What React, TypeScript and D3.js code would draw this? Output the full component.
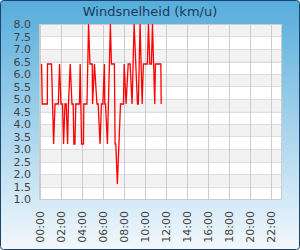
import React, { useEffect, useRef } from 'react';
import * as d3 from 'd3';

// wind speed readings (time of day, km/u)
const times = [
  '00:09', '00:13', '00:42', '00:43', '01:06', '01:12', '01:18', '01:26', '01:45', '01:52',
  '02:00', '02:09', '02:15', '02:23', '02:30', '02:38', '02:43', '02:53', '03:03', '03:10',
  '03:14', '03:20', '03:25', '03:46', '03:50', '03:58', '04:09', '04:11', '04:29', '04:38',
  '04:46', '04:59', '05:01', '05:12', '05:26', '05:33', '05:44', '05:52', '06:00', '06:09',
  '06:11', '06:15', '06:26', '06:43', '06:49', '07:06', '07:10', '07:14', '07:23', '07:41',
  '07:58', '08:02', '08:13', '08:25', '08:36', '08:47', '08:59', '09:18', '09:23', '09:33',
  '09:45', '09:52', '10:15', '10:21', '10:29', '10:38', '10:44', '10:57', '11:01', '11:32',
  '11:34',
];
const speeds = [
  6.4, 4.8, 4.8, 6.4, 6.4, 4.8, 3.2, 4.8, 4.8, 6.4,
  4.8, 4.8, 3.2, 4.8, 4.8, 3.2, 4.8, 6.4, 4.8, 4.8,
  3.2, 3.2, 4.8, 4.8, 6.4, 3.2, 3.2, 4.8, 4.8, 8.0,
  6.4, 6.4, 4.8, 6.4, 4.8, 4.8, 3.2, 4.8, 4.8, 6.4,
  4.8, 4.8, 3.2, 8.0, 6.4, 6.4, 3.2, 3.2, 1.6, 4.8,
  4.8, 6.4, 4.8, 6.4, 6.4, 4.8, 8.0, 4.8, 4.8, 8.0,
  4.8, 6.4, 6.4, 8.0, 6.4, 6.4, 8.0, 4.8, 6.4, 6.4,
  4.8,
];
const yTicks = [1.0, 1.5, 2.0, 2.5, 3.0, 3.5, 4.0, 4.5, 5.0, 5.5, 6.0, 6.5, 7.0, 7.5, 8.0];
const xTickHours = [0, 2, 4, 6, 8, 10, 12, 14, 16, 18, 20, 22];
const title = 'Windsnelheid (km/u)';

const toHours = (t: string) => {
  const [h, m] = t.split(':').map(Number);
  return h + m / 60;
};

export default function App() {
  const svgRef = useRef<SVGSVGElement>(null);
  const width = 300;
  const height = 250;

  useEffect(() => {
    document.body.style.margin = '0';
    if (!svgRef.current) return;
    const svg = d3.select(svgRef.current);
    svg.selectAll('*').remove();

    const margin = { top: 24, right: 19, bottom: 51, left: 40 };
    const innerW = width - margin.left - margin.right;
    const innerH = height - margin.top - margin.bottom;

    // background gradient
    const defs = svg.append('defs');
    const grad = defs.append('linearGradient')
      .attr('id', 'bg')
      .attr('x1', 0).attr('y1', 0).attr('x2', 0).attr('y2', 1);
    grad.append('stop').attr('offset', '0%').attr('stop-color', '#56addb');
    grad.append('stop').attr('offset', '100%').attr('stop-color', '#f3f8fd');

    svg.append('rect')
      .attr('x', 0.5).attr('y', 0.5)
      .attr('width', width - 1).attr('height', height - 1)
      .attr('rx', 3)
      .attr('fill', 'url(#bg)')
      .attr('stroke', '#1d4470')
      .attr('stroke-width', 1);

    svg.append('text')
      .attr('x', width / 2)
      .attr('y', 16)
      .attr('text-anchor', 'middle')
      .style('font-family', 'DejaVu Sans, sans-serif')
      .style('font-size', '13px')
      .style('fill', '#1b3a5c')
      .text(title);

    const x = d3.scaleLinear().domain([0, 23]).range([0, innerW]);
    const y = d3.scaleLinear().domain([1, 8]).range([innerH, 0]);

    const g = svg.append('g').attr('transform', `translate(${margin.left},${margin.top})`);

    // alternating bands
    d3.range(yTicks.length - 1).forEach(i => {
      const hi = yTicks[yTicks.length - 1 - i];
      const lo = yTicks[yTicks.length - 2 - i];
      g.append('rect')
        .attr('x', 0)
        .attr('y', y(hi))
        .attr('width', innerW)
        .attr('height', y(lo) - y(hi))
        .attr('fill', i % 2 === 0 ? '#f2f2f2' : '#ffffff');
    });

    // horizontal grid
    g.selectAll('.hgrid')
      .data(yTicks)
      .enter()
      .append('line')
      .attr('x1', 0).attr('x2', innerW)
      .attr('y1', d => Math.round(y(d)) + 0.5)
      .attr('y2', d => Math.round(y(d)) + 0.5)
      .attr('stroke', '#dddddd');

    // vertical grid
    g.selectAll('.vgrid')
      .data(xTickHours)
      .enter()
      .append('line')
      .attr('y1', 0).attr('y2', innerH)
      .attr('x1', d => Math.round(x(d)) + 0.5)
      .attr('x2', d => Math.round(x(d)) + 0.5)
      .attr('stroke', '#cccccc');

    // plot frame
    g.append('rect')
      .attr('x', -0.5).attr('y', 0.5)
      .attr('width', innerW + 1).attr('height', innerH)
      .attr('fill', 'none')
      .attr('stroke', '#cccccc');

    // y labels
    g.selectAll('.ylab')
      .data(yTicks)
      .enter()
      .append('text')
      .attr('x', -9)
      .attr('y', d => y(d) + 4)
      .attr('text-anchor', 'end')
      .style('font-family', 'DejaVu Sans, sans-serif')
      .style('font-size', '11px')
      .style('fill', '#444')
      .text(d => d.toFixed(1));

    // x labels, rotated
    g.selectAll('.xlab')
      .data(xTickHours)
      .enter()
      .append('text')
      .attr('transform', d => `translate(${x(d) + 4},${innerH + 12}) rotate(-90)`)
      .attr('text-anchor', 'end')
      .style('font-family', 'DejaVu Sans, sans-serif')
      .style('font-size', '11px')
      .style('fill', '#444')
      .text(d => `${String(d).padStart(2, '0')}:00`);

    const data = times.map((t, i) => ({ h: toHours(t), v: speeds[i] }));
    const line = d3.line<{ h: number; v: number }>()
      .x(d => x(d.h))
      .y(d => y(d.v));

    g.append('path')
      .datum(data)
      .attr('d', line)
      .attr('fill', 'none')
      .attr('stroke', '#ff0000')
      .attr('stroke-width', 1.3);
  }, []);

  return <svg ref={svgRef} width={width} height={height} style={{ display: 'block' }} />;
}
